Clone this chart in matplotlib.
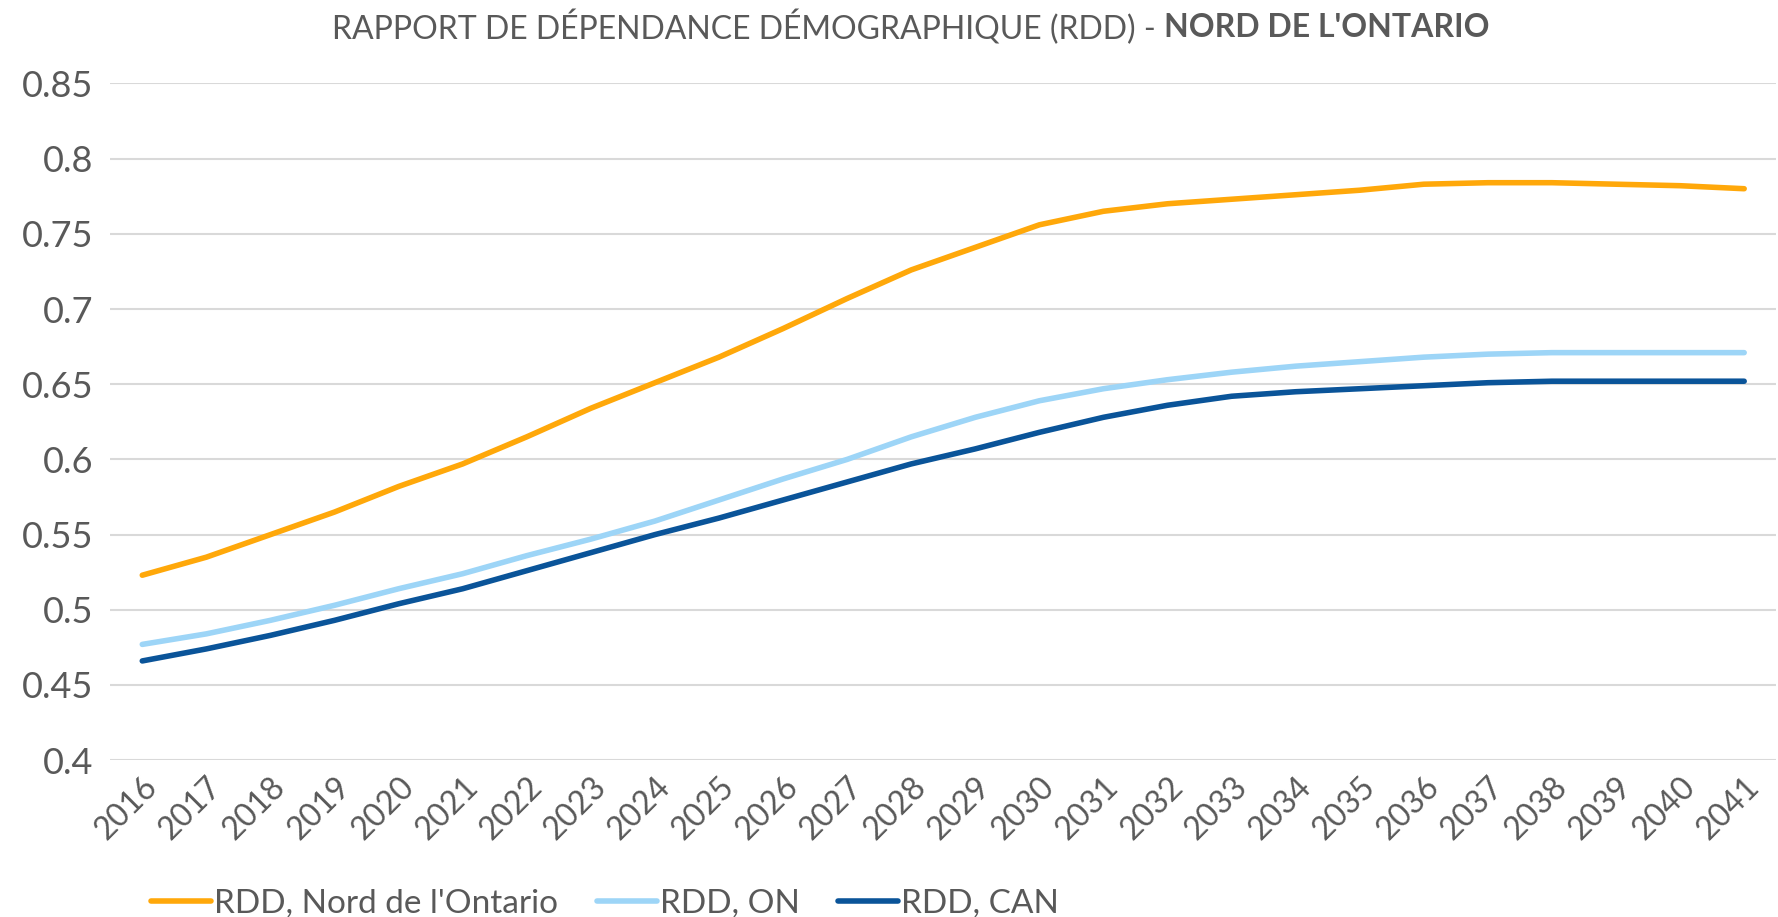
import matplotlib.pyplot as plt

years = list(range(2016, 2042))
nord = [0.523, 0.535, 0.550, 0.565, 0.582, 0.597, 0.615, 0.634, 0.651, 0.668,
        0.687, 0.707, 0.726, 0.741, 0.756, 0.765, 0.770, 0.773, 0.776, 0.779,
        0.783, 0.784, 0.784, 0.783, 0.782, 0.780]
on = [0.477, 0.484, 0.493, 0.503, 0.514, 0.524, 0.536, 0.547, 0.559, 0.573,
      0.587, 0.600, 0.615, 0.628, 0.639, 0.647, 0.653, 0.658, 0.662, 0.665,
      0.668, 0.670, 0.671, 0.671, 0.671, 0.671]
can = [0.466, 0.474, 0.483, 0.493, 0.504, 0.514, 0.526, 0.538, 0.550, 0.561,
       0.573, 0.585, 0.597, 0.607, 0.618, 0.628, 0.636, 0.642, 0.645, 0.647,
       0.649, 0.651, 0.652, 0.652, 0.652, 0.652]
labels = ["RDD, Nord de l'Ontario", "RDD, ON", "RDD, CAN"]
colors = ['#FFA80A', '#9DD5F7', '#0A5499']

plt.rcParams['font.family'] = ['Lato', 'DejaVu Sans']
grey = '#595959'

fig = plt.figure(figsize=(17.78, 9.17), dpi=100)
ax = fig.add_axes([0.062, 0.171, 0.937, 0.738])

for vals, lab, c in zip([nord, on, can], labels, colors):
    ax.plot(years, vals, color=c, lw=4, label=lab, solid_capstyle='round')

ax.set_xlim(2015.5, 2041.5)
ax.set_ylim(0.4, 0.85)
ax.set_yticks([0.4, 0.45, 0.5, 0.55, 0.6, 0.65, 0.7, 0.75, 0.8, 0.85])
ax.set_yticklabels(['0.4', '0.45', '0.5', '0.55', '0.6', '0.65', '0.7', '0.75', '0.8', '0.85'])
ax.set_xticks(years)
ax.set_xticklabels([str(y) for y in years], rotation=45, ha='right', rotation_mode='anchor')
ax.tick_params(axis='y', length=0, pad=12, labelsize=26, labelcolor=grey)
ax.tick_params(axis='x', length=0, pad=8, labelsize=23, labelcolor=grey)
ax.grid(axis='y', color='#D9D9D9', lw=1.5)
ax.set_axisbelow(True)
for s in ax.spines.values():
    s.set_visible(False)

# title: normal part + bold part, centred together
fig.canvas.draw()
r = fig.canvas.get_renderer()
t1 = fig.text(0, 0.97, "RAPPORT DE DÉPENDANCE DÉMOGRAPHIQUE (RDD) - ", fontsize=23,
              color=grey, va='center', ha='left')
t2 = fig.text(0, 0.97, "NORD DE L'ONTARIO", fontsize=23, color=grey,
              fontweight='bold', va='center', ha='left')
w1 = t1.get_window_extent(r).width
w2 = t2.get_window_extent(r).width
W = fig.bbox.width
x0 = (0.512 * W - (w1 + w2) / 2)
t1.set_x(x0 / W)
t2.set_x((x0 + w1) / W)

fig.legend(loc='lower left', bbox_to_anchor=(0.068, -0.034), ncol=3, frameon=False,
           fontsize=24, labelcolor=grey, handlelength=1.8, handletextpad=0.1,
           columnspacing=1.15)

fig.savefig('out.png', dpi=100)
